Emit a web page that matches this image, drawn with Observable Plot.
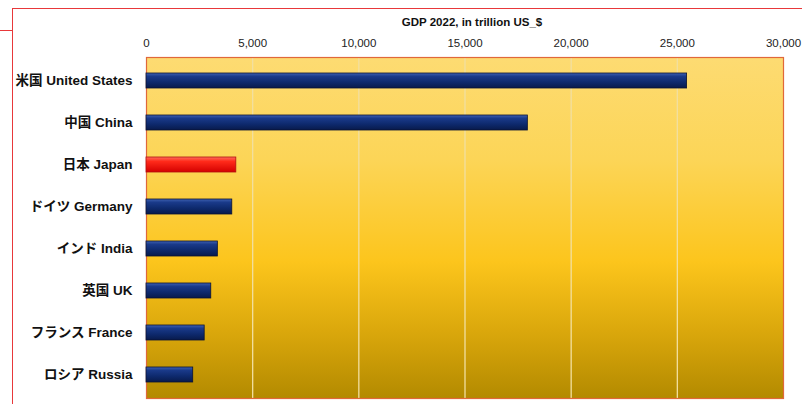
<!DOCTYPE html>
<html>
<head>
<meta charset="utf-8">
<script src="https://cdn.jsdelivr.net/npm/d3@7"></script>
<script src="https://cdn.jsdelivr.net/npm/@observablehq/plot@0.6"></script>
<style>
  html, body { margin: 0; padding: 0; background: #fff; }
  #wrap { position: relative; width: 802px; height: 404px; overflow: hidden; }
  #frame { position: absolute; left: 12px; top: 8px; width: 800px; height: 410px; border: 1px solid #e8383a; box-sizing: border-box; pointer-events: none; }
  #tick { position: absolute; left: 0; top: 30px; width: 12px; height: 0; border-top: 1px solid #e8383a; }
  svg { font-family: "Liberation Sans", Arial, "Noto Sans CJK JP", sans-serif; }
</style>
</head>
<body>
<div id="wrap"><div id="chart"></div><div id="frame"></div><div id="tick"></div></div>
<script>
const countries = ["米国 United States", "中国 China", "日本 Japan", "ドイツ Germany", "インド India", "英国 UK", "フランス France", "ロシア Russia"];
const gdp = [25460, 17960, 4230, 4040, 3360, 3050, 2740, 2200];
const xTicks = [0, 5000, 10000, 15000, 20000, 25000, 30000];
const title = "GDP 2022, in trillion US_$";
const highlight = "日本 Japan";

const data = countries.map((c, i) => ({country: c, value: gdp[i]}));

function defs() {
  const ns = "http://www.w3.org/2000/svg";
  const d = document.createElementNS(ns, "defs");
  const mk = (id, stops) => {
    const g = document.createElementNS(ns, "linearGradient");
    g.setAttribute("id", id);
    g.setAttribute("x1", "0"); g.setAttribute("y1", "0");
    g.setAttribute("x2", "0"); g.setAttribute("y2", "1");
    for (const [o, c] of stops) {
      const s = document.createElementNS(ns, "stop");
      s.setAttribute("offset", o); s.setAttribute("stop-color", c);
      g.appendChild(s);
    }
    d.appendChild(g);
  };
  mk("bg", [["0", "#fddb72"], ["0.3", "#fcd557"], ["0.6", "#fcc51c"], ["0.8", "#dba80c"], ["1", "#b38a00"]]);
  mk("navy", [["0", "#4062b2"], ["0.22", "#1a3a8a"], ["0.6", "#0e2a6e"], ["1", "#081a4c"]]);
  mk("red", [["0", "#ff6a5a"], ["0.3", "#ff2a1a"], ["1", "#d40000"]]);
  return d;
}

const chart = Plot.plot({
  width: 802,
  height: 404,
  marginLeft: 146,
  marginRight: 19,
  marginTop: 57,
  marginBottom: 6,
  style: {fontSize: "11px", color: "#222", background: "transparent"},
  x: {domain: [0, 30000], ticks: xTicks, tickFormat: d3.format(","), axis: null},
  y: {domain: countries, paddingInner: 0.65, paddingOuter: 0.325, axis: null},
  marks: [
    defs,
    Plot.frame({fill: "url(#bg)", stroke: "none"}),
    Plot.ruleX(xTicks.slice(1, -1), {stroke: "#f2dfa0", strokeWidth: 1.3}),
    Plot.frame({stroke: "#e0683a", strokeWidth: 1.2}),
    Plot.axisX(xTicks, {anchor: "top", tickSize: 0, tickPadding: 11, tickFormat: d3.format(","), label: null, fontSize: 11.5, fill: "#222"}),
    Plot.axisY({anchor: "left", tickSize: 0, tickPadding: 14, label: null, fontSize: 13.5, fontWeight: "bold", fill: "#111"}),
    Plot.barX(data, {
      y: "country", x: "value",
      fill: d => d.country === highlight ? "url(#red)" : "url(#navy)",
      stroke: d => d.country === highlight ? "#b01010" : "#0a1233",
      strokeWidth: 0.8
    }),
    Plot.text([title], {frameAnchor: "top", dy: -40, dx: 7, text: d => d, fontWeight: "bold", fontSize: 11.5, fill: "#111"})
  ]
});
document.getElementById("chart").appendChild(chart);
</script>
</body>
</html>
